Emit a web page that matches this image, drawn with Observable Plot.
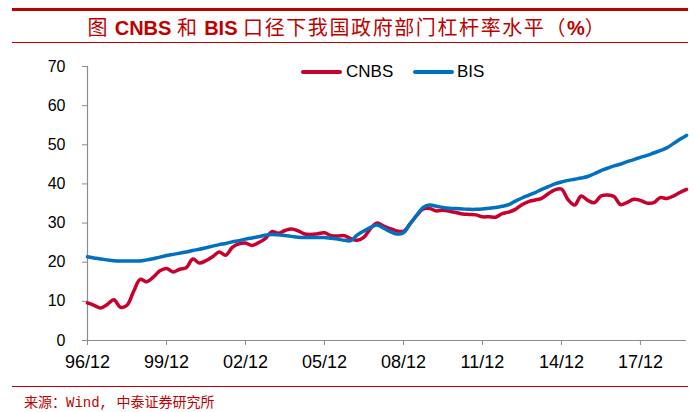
<!DOCTYPE html>
<html><head><meta charset="utf-8">
<script src="https://cdn.jsdelivr.net/npm/d3@7"></script>
<script src="https://cdn.jsdelivr.net/npm/@observablehq/plot@0.6"></script>
<style>
body{margin:0;background:#fff;}
#wrap{position:relative;width:694px;height:412px;overflow:hidden;background:#fff;font-family:"Liberation Sans",Arial,sans-serif;}
.hl{position:absolute;left:12px;width:676px;background:#C00000;}
#title{position:absolute;left:0;width:694px;top:14px;text-align:center;color:#C00000;font-size:20px;line-height:26px;white-space:nowrap;}
.lat{font-family:"Liberation Sans",Arial,sans-serif;font-weight:bold;}
.cjk{font-family:"Noto Sans CJK SC",sans-serif;letter-spacing:1.6px;}
#chart{position:absolute;left:0;top:46px;}
.lg{position:absolute;height:4px;border-radius:2px;}
.lt{position:absolute;font-size:17px;line-height:20px;color:#000;}
#source{position:absolute;left:24px;top:394px;font-size:14px;line-height:18px;color:#C00000;font-family:"Liberation Mono","Noto Sans CJK SC",monospace;white-space:nowrap;}
</style></head>
<body>
<div id="wrap">
  <div class="hl" style="top:8px;height:3px"></div>
  <div id="title"><span class="cjk">图</span>&nbsp;<span class="lat">CNBS</span>&nbsp;<span class="cjk">和</span>&nbsp;<span class="lat">BIS</span>&nbsp;<span class="cjk">口径下我国政府部门杠杆率水平（</span><span class="lat">%</span><span class="cjk">）</span></div>
  <div class="hl" style="top:42px;height:1px"></div>
  <div id="chart"></div>
  <div class="lg" style="left:301px;top:70px;width:41px;background:#C8002D"></div>
  <div class="lt" style="left:346px;top:62px">CNBS</div>
  <div class="lg" style="left:413px;top:70px;width:41px;background:#0070C0"></div>
  <div class="lt" style="left:457px;top:62px">BIS</div>
  <div class="hl" style="top:386px;height:1px"></div>
  <div id="source">来源：Wind, 中泰证券研究所</div>
</div>
<script>
// Quarterly, 1996Q4 (96/12) through 2019Q3
const xTickLabels = ["96/12","99/12","02/12","05/12","08/12","11/12","14/12","17/12"];
const yTicks = [0,10,20,30,40,50,60,70];
const cnbs = [
  9.6, 9.0, 8.3, 9.2, 10.4, 8.5, 9.0, 12.5, 15.6, 15.0,
  16.2, 17.8, 18.4, 17.5, 18.2, 18.6, 20.8, 19.8, 20.4, 21.4,
  22.6, 21.8, 23.8, 24.7, 24.9, 24.3, 25.0, 26.0, 27.8, 27.4,
  28.1, 28.5, 28.0, 27.2, 27.1, 27.3, 27.5, 26.8, 26.7, 26.8,
  26.0, 25.6, 26.4, 28.6, 30.0, 29.2, 28.6, 28.0, 27.9, 29.8,
  31.9, 33.6, 33.7, 33.1, 33.3, 33.0, 32.7, 32.3, 32.2, 32.1,
  31.6, 31.6, 31.5, 32.4, 32.8, 33.5, 34.7, 35.5, 35.9, 36.3,
  37.5, 38.5, 38.7, 36.0, 34.6, 36.9, 35.8, 35.2, 36.9, 37.2,
  36.8, 34.7, 35.3, 36.1, 35.8, 35.1, 35.2, 36.5, 36.3, 36.9,
  37.8, 38.6
];
const bis = [
  21.4, 21.1, 20.8, 20.6, 20.4, 20.3, 20.3, 20.3, 20.3, 20.6,
  20.9, 21.3, 21.7, 22.0, 22.3, 22.6, 23.0, 23.3, 23.7, 24.1,
  24.5, 24.8, 25.2, 25.5, 25.9, 26.2, 26.5, 26.9, 27.1, 27.0,
  26.8, 26.6, 26.4, 26.3, 26.3, 26.3, 26.3, 26.1, 25.9, 25.6,
  25.5, 27.0, 28.0, 28.9, 29.5, 28.7, 27.8, 27.2, 27.5, 29.8,
  32.0, 34.0, 34.6, 34.3, 34.0, 33.8, 33.7, 33.6, 33.5, 33.5,
  33.6, 33.8, 34.0, 34.3, 34.7, 35.6, 36.4, 37.1, 37.8, 38.6,
  39.3, 40.0, 40.5, 40.9, 41.2, 41.5, 41.9, 42.6, 43.4, 44.0,
  44.6, 45.1, 45.7, 46.2, 46.8, 47.3, 47.9, 48.5, 49.2, 50.3,
  51.4, 52.4
];
const cnbsRows = cnbs.map((v, i) => ({i, v}));
const bisRows = bis.map((v, i) => ({i, v}));
const tickIdx = xTickLabels.map((_, k) => k * 12);
const axisGray = "#8c8c8c";

const chart = Plot.plot({
  width: 694, height: 334,
  marginTop: 20, marginBottom: 40, marginLeft: 87, marginRight: 8,
  x: {domain: [0, cnbs.length - 1], axis: null},
  y: {domain: [0, 70], axis: null},
  style: {fontFamily: "Liberation Sans, Arial, sans-serif", color: "#000", background: "#fff", overflow: "visible"},
  marks: [
    Plot.ruleY([0], {stroke: axisGray, strokeWidth: 1.2}),
    Plot.ruleX([0], {stroke: axisGray, strokeWidth: 1.2}),
    Plot.axisY({ticks: yTicks, tickSize: 5, tickPadding: 17, stroke: axisGray, fill: "#000", fontSize: 16, label: null}),
    Plot.axisX({ticks: tickIdx, tickFormat: d => xTickLabels[tickIdx.indexOf(d)], tickSize: 5, tickPadding: 10, stroke: axisGray, fill: "#000", fontSize: 18, label: null}),
    Plot.line(cnbsRows, {x: "i", y: "v", stroke: "#C8002D", strokeWidth: 3.5, curve: "catmull-rom"}),
    Plot.line(bisRows, {x: "i", y: "v", stroke: "#0070C0", strokeWidth: 3.5, curve: "catmull-rom"})
  ]
});
document.getElementById("chart").appendChild(chart);
</script>
</body></html>
